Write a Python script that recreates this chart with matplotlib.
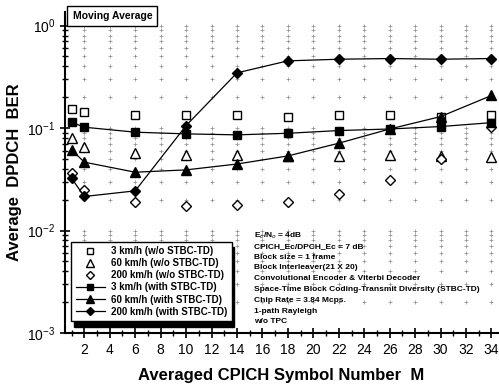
import numpy as np
import matplotlib.pyplot as plt
from matplotlib.ticker import FixedLocator, NullFormatter

plt.rcParams['font.family'] = ['Liberation Sans', 'DejaVu Sans']

# averaged CPICH symbol number M
m_vals = [1, 2, 6, 10, 14, 18, 22, 26, 30, 34]

# without STBC-TD (markers only)
ber_3_wo = [0.153, 0.145, 0.134, 0.133, 0.134, 0.129, 0.133, 0.133, 0.128, 0.134]
ber_60_wo = [0.080, 0.066, 0.0577, 0.0548, 0.0548, 0.0535, 0.0535, 0.0548, 0.0535, 0.0527]
ber_200_wo = [0.0368, 0.0246, 0.0188, 0.0174, 0.0178, 0.0188, 0.0227, 0.0313, 0.0497, 0.1035]

# with STBC-TD (markers and lines)
ber_3_with = [0.114, 0.102, 0.0912, 0.0878, 0.0859, 0.089, 0.0946, 0.098, 0.1035, 0.113]
ber_60_with = [0.0613, 0.0465, 0.0371, 0.0391, 0.0446, 0.0535, 0.0712, 0.098, 0.1295, 0.208]
ber_200_with = [0.0324, 0.0215, 0.0244, 0.1058, 0.346, 0.453, 0.470, 0.477, 0.470, 0.477]

legend_labels = ['3 km/h (w/o STBC-TD)', '60 km/h (w/o STBC-TD)', '200 km/h (w/o STBC-TD)',
                 '3 km/h (with STBC-TD)', '60 km/h (with STBC-TD)', '200 km/h (with STBC-TD)']

sim_params = [r'E$_c$/N$_o$ = 4dB',
              'CPICH_Ec/DPCH_Ec = 7 dB',
              'Block size = 1 frame',
              'Block Interleaver(21 X 20)',
              'Convolutional Encoder & Viterbi Decoder',
              'Space-Time Block Coding-Transmit Diversity (STBC-TD)',
              'Chip Rate = 3.84 Mcps.',
              '1-path Rayleigh',
              'w/o TPC']

fig = plt.figure(figsize=(4.99, 3.85), dpi=100)
ax = fig.add_axes([0.1307, 0.135, 0.867, 0.834])
ax.set_yscale('log')
ax.set_xlim(0.5, 34.5)
ax.set_ylim(1e-3, 1.36)

# sparse cross grid
gx = np.arange(2, 35, 2)
gy = [k * 10.0 ** e for e in (-3, -2, -1) for k in range(1, 10)] + [1.0]
GX, GY = np.meshgrid(gx, gy)
ax.scatter(GX.ravel(), GY.ravel(), marker='+', s=9, color='0.55', linewidths=0.5, zorder=1)

ms = 6
ax.plot(m_vals, ber_3_wo, ls='none', marker='s', mfc='white', mec='black', mew=1, ms=ms,
        label=legend_labels[0], zorder=3)
ax.plot(m_vals, ber_60_wo, ls='none', marker='^', mfc='white', mec='black', mew=1, ms=ms + 1,
        label=legend_labels[1], zorder=3)
ax.plot(m_vals, ber_200_wo, ls='none', marker='D', mfc='white', mec='black', mew=1, ms=ms - 0.5,
        label=legend_labels[2], zorder=3)
ax.plot(m_vals, ber_3_with, color='black', lw=0.9, marker='s', mfc='black', mec='black', ms=ms,
        label=legend_labels[3], zorder=4)
ax.plot(m_vals, ber_60_with, color='black', lw=0.9, marker='^', mfc='black', mec='black', ms=ms + 1,
        label=legend_labels[4], zorder=4)
ax.plot(m_vals, ber_200_with, color='black', lw=0.9, marker='D', mfc='black', mec='black', ms=ms - 0.5,
        label=legend_labels[5], zorder=4)

for s in ('top', 'right'):
    ax.spines[s].set_visible(False)
for s in ('left', 'bottom'):
    ax.spines[s].set_linewidth(1.5)

ax.set_xticks(np.arange(2, 35, 2))
ax.xaxis.set_minor_locator(FixedLocator(np.arange(1, 35, 2)))
ax.tick_params(axis='both', which='major', direction='inout', length=7, width=1.2, labelsize=10)
ax.tick_params(axis='both', which='minor', direction='inout', length=4, width=1)
ax.yaxis.set_minor_formatter(NullFormatter())

ax.set_xlabel('Averaged CPICH Symbol Number  M', fontsize=12, fontweight='bold', labelpad=8)
ax.set_ylabel('Average  DPDCH  BER', fontsize=12, fontweight='bold', labelpad=4)

leg = ax.legend(loc='lower left', bbox_to_anchor=(0.003, 0.022), frameon=True,
                fancybox=False, edgecolor='black', handlelength=3.0, labelspacing=0.22,
                borderpad=0.45, markerscale=0.75, handletextpad=0.6,
                shadow={'color': 'black', 'alpha': 1, 'ox': 2, 'oy': -4},
                prop={'weight': 'bold', 'size': 7})
leg.get_frame().set_linewidth(1)
leg.set_zorder(7)

ax.text(0.109, 0.987, 'Moving Average', transform=ax.transAxes, ha='center', va='center',
        fontsize=7.5, fontweight='bold', clip_on=False, zorder=6,
        bbox=dict(boxstyle='square,pad=0.5', fc='white', ec='black', lw=1))

y0 = 0.304
for i, line in enumerate(sim_params):
    ax.text(0.437, y0 - i * 0.0337, line, transform=ax.transAxes, ha='left', va='center',
            fontsize=6, fontweight='bold', zorder=6)

fig.savefig('out.png', dpi=100)
